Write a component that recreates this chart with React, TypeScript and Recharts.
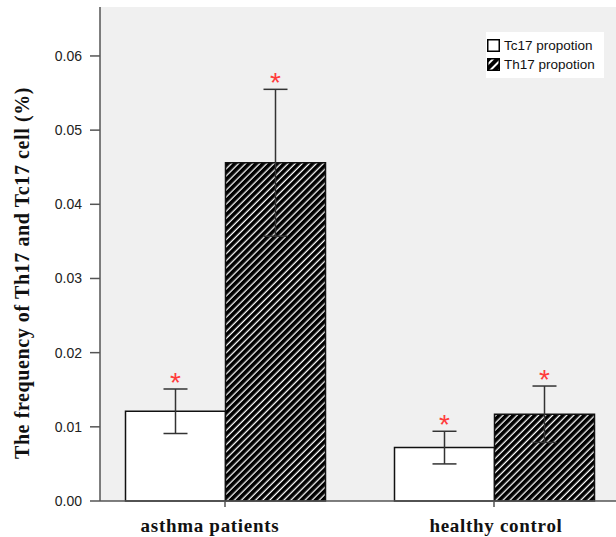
import {
  BarChart,
  Bar,
  XAxis,
  YAxis,
  CartesianGrid,
  ErrorBar,
  LabelList,
} from "recharts";

const categories = ["asthma patients", "healthy control"];
const tc17 = [0.0121, 0.0072];
const th17 = [0.0456, 0.0117];
const tc17Err = [0.003, 0.0022];
const th17Err = [0.0099, 0.0038];
const yTicks = [0, 0.01, 0.02, 0.03, 0.04, 0.05, 0.06];

const data = categories.map((name, i) => ({
  name,
  tc17: tc17[i],
  th17: th17[i],
  tc17Err: tc17Err[i],
  th17Err: th17Err[i],
}));

const SANS = "'Liberation Sans', Arial, sans-serif";
const SERIF = "'Liberation Serif', 'Times New Roman', serif";

// the original labels are not quite centred under their ticks
const labelShift = [-15, 2];

function CategoryTick(props: any) {
  const { x, y, payload, index } = props;
  return (
    <text
      x={x + (labelShift[index] ?? 0)}
      y={y}
      dy="0.71em"
      textAnchor="middle"
      fontSize={19}
      fontWeight="bold"
      fontFamily={SERIF}
      fill="#111"
      letterSpacing={0.7}
    >
      {payload.value}
    </text>
  );
}

// red asterisk just above the top of each error bar
function makeStar(errs: number[]) {
  return function Star(props: any) {
    const { x, y, width, height, value, index } = props;
    if (!value) return null;
    const perUnit = height / value;
    const top = y + height - (value + errs[index]) * perUnit;
    return (
      <text
        x={x + width / 2}
        y={top + 3}
        textAnchor="middle"
        fill="#ff3b3b"
        fontSize={28}
        fontFamily={SANS}
      >
        *
      </text>
    );
  };
}

function Swatch({ hatched }: { hatched?: boolean }) {
  return (
    <svg width={13} height={13} style={{ display: "block" }}>
      <defs>
        <pattern
          id="legendHatch"
          width={6}
          height={6}
          patternUnits="userSpaceOnUse"
          patternTransform="rotate(45)"
        >
          <rect width={6} height={6} fill="#fff" />
          <rect width={4} height={6} fill="#000" />
        </pattern>
      </defs>
      <rect
        x={0.75}
        y={0.75}
        width={11.5}
        height={11.5}
        fill={hatched ? "url(#legendHatch)" : "#fff"}
        stroke="#000"
        strokeWidth={1.5}
      />
    </svg>
  );
}

function LegendBox() {
  const rows = [
    { label: "Tc17 propotion", hatched: false },
    { label: "Th17 propotion", hatched: true },
  ];
  return (
    <div
      style={{
        position: "absolute",
        top: 32,
        left: 486,
        width: 118,
        boxSizing: "border-box",
        background: "#fff",
        padding: "4px 2px 4px 1px",
        fontFamily: SANS,
        fontSize: 13.5,
        color: "#111",
      }}
    >
      {rows.map((r) => (
        <div
          key={r.label}
          style={{ display: "flex", alignItems: "center", gap: 4, height: 19 }}
        >
          <Swatch hatched={r.hatched} />
          <span>{r.label}</span>
        </div>
      ))}
    </div>
  );
}

export default function App() {
  return (
    <div
      style={{
        position: "absolute",
        left: 0,
        top: 0,
        width: 616,
        height: 537,
        background: "#fff",
      }}
    >
      <BarChart
        width={616}
        height={537}
        data={data}
        margin={{ top: 7, right: 0, left: 0, bottom: 6 }}
        barCategoryGap={35}
        barGap={0}
      >
        <defs>
          <pattern
            id="hatch"
            width={5}
            height={5}
            patternUnits="userSpaceOnUse"
            patternTransform="rotate(45)"
          >
            <rect width={5} height={5} fill="#fff" />
            <rect width={3.7} height={5} fill="#000" />
          </pattern>
        </defs>
        <CartesianGrid
          fill="#f0f0f0"
          stroke="#d8d8d8"
          vertical={false}
          horizontalValues={[0.0666]}
        />
        <XAxis
          dataKey="name"
          height={30}
          padding={{ left: -9.5, right: -12.5 }}
          axisLine={{ stroke: "#555", strokeWidth: 1.5 }}
          tickLine={{ stroke: "#555", strokeWidth: 1.5 }}
          tickSize={6}
          tickMargin={12}
          tick={<CategoryTick />}
        />
        <YAxis
          width={100}
          domain={[0, 0.0666]}
          ticks={yTicks}
          tickFormatter={(v: number) => v.toFixed(2)}
          axisLine={{ stroke: "#555", strokeWidth: 1.5 }}
          tickLine={{ stroke: "#555", strokeWidth: 1.5 }}
          tickSize={10}
          tickMargin={8}
          tick={{ fontSize: 14, fontFamily: SANS, fill: "#222" }}
          label={{
            content: () => (
              <text
                x={22}
                y={273}
                transform="rotate(-90, 22, 273)"
                textAnchor="middle"
                dominantBaseline="central"
                fontSize={20}
                fontWeight="bold"
                fontFamily={SERIF}
                fill="#111"
                letterSpacing={0.6}
              >
                The frequency of Th17 and Tc17 cell (%)
              </text>
            ),
          }}
        />
        <Bar
          dataKey="tc17"
          name="Tc17 propotion"
          fill="#fff"
          stroke="#111"
          strokeWidth={1.5}
          isAnimationActive={false}
        >
          <ErrorBar dataKey="tc17Err" width={12} stroke="#333" strokeWidth={1.5} />
          <LabelList dataKey="tc17" content={makeStar(tc17Err)} />
        </Bar>
        <Bar
          dataKey="th17"
          name="Th17 propotion"
          fill="url(#hatch)"
          stroke="#111"
          strokeWidth={1.5}
          isAnimationActive={false}
        >
          <ErrorBar dataKey="th17Err" width={12} stroke="#333" strokeWidth={1.5} />
          <LabelList dataKey="th17" content={makeStar(th17Err)} />
        </Bar>
      </BarChart>
      <LegendBox />
    </div>
  );
}
